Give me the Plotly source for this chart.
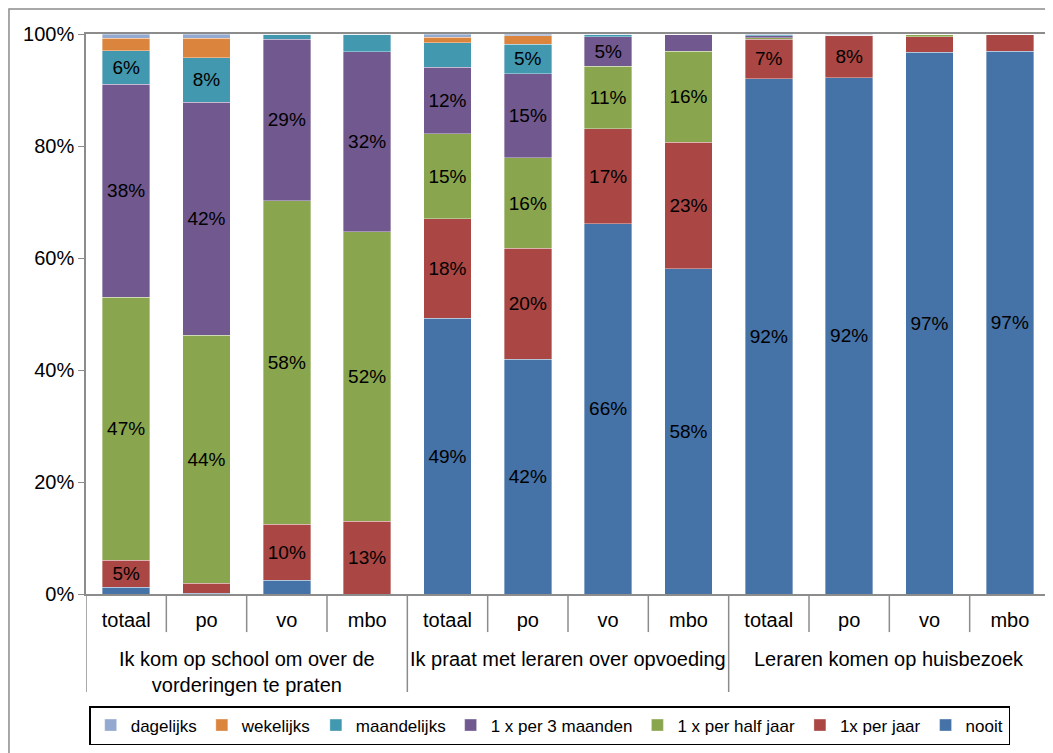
"""Stacked 100% bar chart: contact frequency between parents and school."""

import plotly.graph_objects as go

GROUPS = [
    "Ik kom op school om over de<br>vorderingen te praten",
    "Ik praat met leraren over opvoeding",
    "Leraren komen op huisbezoek",
]
SUBS = ["totaal", "po", "vo", "mbo"]

# values per bar (12 bars: 3 groups x 4 sub categories), percent
nooit = [1.2, 0.1, 2.5, 0.0, 49.2, 41.9, 66.1, 58.1, 92.0, 92.2, 96.7, 96.9]
per_jaar = [4.8, 1.8, 10.0, 13.0, 17.8, 19.8, 17.0, 22.6, 7.1, 7.6, 2.8, 3.1]
half_jaar = [47.0, 44.3, 57.7, 51.7, 15.2, 16.2, 11.1, 16.2, 0.2, 0.0, 0.5, 0.0]
drie_maanden = [38.0, 41.6, 28.9, 32.1, 11.9, 15.0, 5.3, 3.1, 0.4, 0.0, 0.0, 0.0]
maandelijks = [6.0, 8.0, 0.9, 3.2, 4.3, 5.3, 0.5, 0.0, 0.2, 0.1, 0.0, 0.0]
wekelijks = [2.2, 3.4, 0.0, 0.0, 1.0, 1.5, 0.0, 0.0, 0.0, 0.0, 0.0, 0.0]
dagelijks = [0.8, 0.8, 0.0, 0.0, 0.6, 0.3, 0.0, 0.0, 0.1, 0.1, 0.0, 0.0]

SERIES = [
    ("nooit", nooit, "#4572A7"),
    ("1x per jaar", per_jaar, "#AA4643"),
    ("1 x per half jaar", half_jaar, "#89A54E"),
    ("1 x per 3 maanden", drie_maanden, "#71588F"),
    ("maandelijks", maandelijks, "#4198AF"),
    ("wekelijks", wekelijks, "#DB843D"),
    ("dagelijks", dagelijks, "#93A9CF"),
]

FONT = "Arial, Liberation Sans, sans-serif"
GREY = "#8c8c8c"

x = list(range(len(GROUPS) * len(SUBS)))
tick_text = SUBS * len(GROUPS)

fig = go.Figure()
for name, values, color in SERIES:
    labels = [f"{round(v)}%" if v >= 4.5 else "" for v in values]
    fig.add_trace(
        go.Bar(
            x=x,
            y=values,
            name=name,
            text=labels,
            textposition="inside",
            insidetextanchor="middle",
            textangle=0,
            textfont={"color": "#000000", "size": 19, "family": FONT},
            marker={"color": color, "line": {"color": "rgba(255,255,255,0.6)", "width": 0.6}},
            hoverinfo="skip",
        )
    )

# separators below the axis
shapes = []
for k in range(len(x) + 1):
    is_group = k % len(SUBS) == 0
    shapes.append(
        {
            "type": "line",
            "xref": "x",
            "yref": "paper",
            "x0": k - 0.5,
            "x1": k - 0.5,
            "y0": 0,
            "y1": -0.175 if is_group else -0.068,
            "line": {"color": GREY, "width": 1.5},
        }
    )
# outer chart border
shapes.append(
    {
        "type": "rect",
        "xref": "paper",
        "yref": "paper",
        "x0": -0.0799,
        "x1": 1.1,
        "y0": 1.0446,
        "y1": -0.5,
        "line": {"color": GREY, "width": 1.5},
    }
)

annotations = []
for g, label in enumerate(GROUPS):
    annotations.append(
        {
            "x": g * len(SUBS) + (len(SUBS) - 1) / 2,
            "xref": "x",
            "yref": "paper",
            "y": -0.092,
            "yanchor": "top",
            "text": label,
            "showarrow": False,
            "font": {"size": 20, "family": FONT, "color": "#000000"},
        }
    )

# the page body adds an 8 px offset, so the figure is 8 px smaller
fig.update_layout(
    width=1045,
    height=745,
    margin={"l": 78, "r": 3, "t": 26, "b": 159, "autoexpand": False},
    barmode="stack",
    bargap=0.41,
    plot_bgcolor="white",
    paper_bgcolor="white",
    font={"family": FONT, "size": 20, "color": "#000000"},
    shapes=shapes,
    annotations=annotations,
    showlegend=True,
    legend={
        "orientation": "h",
        "traceorder": "reversed",
        "x": 0.481,
        "xanchor": "center",
        "y": -0.2,
        "yanchor": "top",
        "bordercolor": "#000000",
        "borderwidth": 1.5,
        "font": {"size": 17, "family": FONT},
        "itemwidth": 30,
        "tracegroupgap": 0,
    },
)
fig.update_xaxes(
    range=[-0.5, len(x) - 0.5],
    tickvals=x,
    ticktext=tick_text,
    ticks="",
    showline=True,
    linecolor=GREY,
    linewidth=1.5,
    mirror=True,
    showgrid=False,
    zeroline=False,
    ticklabelstandoff=7,
    tickfont={"size": 20},
)
fig.update_yaxes(
    range=[0, 100],
    tickvals=[0, 20, 40, 60, 80, 100],
    ticktext=["0%", "20%", "40%", "60%", "80%", "100%"],
    ticks="outside",
    ticklen=6,
    tickcolor=GREY,
    showline=True,
    linecolor=GREY,
    linewidth=1.5,
    showgrid=False,
    zeroline=False,
    tickfont={"size": 20},
)

fig.write_html("out.html")
